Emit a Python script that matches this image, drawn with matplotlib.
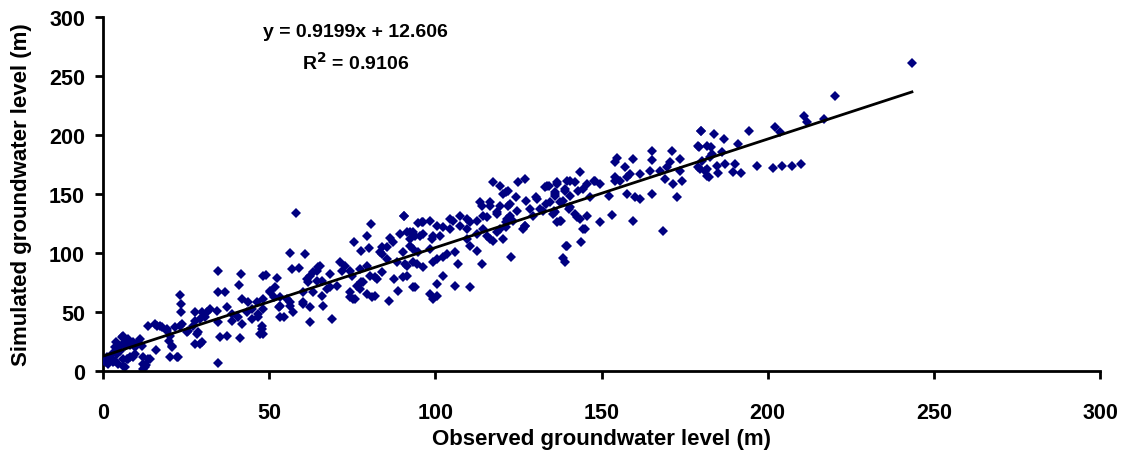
import matplotlib
matplotlib.use("Agg")
import matplotlib.pyplot as plt

plt.rcParams['font.family'] = ['Liberation Sans', 'DejaVu Sans']
plt.rcParams['font.weight'] = 'bold'

# observed vs simulated groundwater level (m)
obs = [
    # 0 - 50 m
    34.7, 41.4, 48.0, 40.9, 34.7, 36.7, 23.2, 23.5, 23.5, 41.7, 43.7,
    27.7, 29.7, 32.2, 34.2, 37.2, 38.7, 40.7, 43.2, 44.7, 46.7, 47.7, 47.2,
    13.6, 15.6, 17.1, 19.2, 21.7, 23.7, 27.7, 30.7, 34.7, 38.7, 41.7,
    5.6, 7.6, 11.1, 3.6, 6.6, 9.6, 11.6, 19.7, 20.7, 27.7, 29.7, 35.2, 37.2,
    41.2, 25.7, 28.7,
    0.6, 1.6, 3.1, 4.6, 6.1, 7.6, 9.1, 6.6, 12.1, 12.6, 14.1, 20.2, 22.2, 34.7,
    1.0, 2.0, 3.0, 5.0, 8.0, 4.0, 6.0, 10.0, 12.0, 12.0, 13.0, 16.0,
    0.1, 1.6, 3.6, 1.1, 4.1, 5.1, 6.6, 9.1, 7.1, 8.1, 9.6, 6.1, 13.6,
    16.1, 17.6, 19.1, 20.2, 20.7, 22.7, 23.2, 25.2, 27.2, 28.2, 29.2, 31.2, 29.2,
    # 44 - 95 m
    58.1, 90.6, 80.5, 94.9, 79.5, 75.5, 77.5, 80.0, 86.4, 89.4, 92.4, 83.8,
    83.8, 85.3, 88.4, 91.4, 94.4, 90.4, 93.4,
    56.3, 60.8, 56.8, 59.1, 49.0, 52.3,
    65.3, 64.3, 62.3, 61.8, 64.3, 68.3, 71.3, 72.8, 74.3, 77.3, 79.3, 80.3,
    82.3, 78.3, 76.3, 74.3, 75.3, 79.3, 81.8, 85.9, 88.9, 93.4, 87.4, 90.4,
    70.3, 67.3, 65.8, 63.3, 60.3, 56.3, 57.3, 53.3, 54.3, 50.3, 51.3, 48.2,
    46.2, 44.7, 48.2, 46.7, 47.7, 48.2, 66.3, 62.3, 68.8, 60.3, 55.3,
    64.8, 63.3, 61.3, 65.8, 71.8, 68.3, 74.8, 77.6, 77.3, 74.3, 75.8, 80.8,
    81.8, 83.8, 83.3, 85.3, 87.3, 50.3, 51.8, 53.3, 56.3, 52.8, 60.3, 62.3,
    53.3,
    # 90 - 140 m
    117.4, 119.4, 124.9, 127.0, 133.5, 136.5, 139.5, 139.0, 121.4, 124.4,
    127.4, 130.4, 133.4, 136.0, 138.5, 113.9, 116.4, 119.4, 122.4, 118.4,
    115.4, 112.4, 109.4, 107.4, 105.4, 107.4, 104.4, 102.4, 100.4, 98.4,
    95.9, 90.6, 91.4, 93.9, 96.4, 98.9, 101.4, 109.4, 112.4, 114.4, 116.4,
    119.4, 121.4, 123.4, 126.9, 129.4, 132.4, 135.5, 137.9, 117.4, 120.4,
    126.4, 112.4, 110.4, 105.9, 106.9, 102.4, 99.4, 96.4, 93.4, 90.9, 94.9,
    92.4, 113.9, 122.9, 139.5, 139.0, 102.4, 100.4, 105.9, 110.4, 93.9,
    98.4, 100.4, 99.4, 91.4,
    120.4, 113.4, 116.4, 118.4, 114.4, 110.4, 104.4, 99.4, 95.4, 93.4, 92.4,
    98.4, 100.4, 103.4, 109.4, 115.4, 118.4, 121.4, 122.4, 96.4,
    # 120 - 182 m
    142.1, 134.1, 148.1, 133.0, 136.1, 122.0, 130.5, 137.6, 122.0, 124.5,
    128.5, 131.6, 135.6, 140.1, 142.6, 136.6, 127.0, 145.1, 121.5,
    179.9, 178.9, 181.6, 165.1, 171.1, 154.6, 159.6, 165.1, 170.6, 173.6,
    154.1, 157.1, 154.1, 157.6, 155.6, 158.6, 161.6, 164.6, 167.6, 169.6,
    173.6, 179.1, 181.1, 181.6, 169.1, 171.6, 174.1, 143.5, 140.5, 136.5,
    143.0, 145.5, 147.6, 149.6, 144.5, 139.0, 136.0, 140.5, 146.5, 152.1,
    154.1, 157.6, 160.1, 161.6, 165.1, 172.6, 134.5, 136.0, 137.5, 140.5,
    142.0, 143.5, 145.5, 153.1, 149.6, 159.6, 144.5, 168.6, 139.3, 143.7,
    138.5,
    # 176 - 245 m
    211.0, 211.7, 216.8, 202.2, 203.7, 194.5, 179.8, 183.7, 186.7, 179.2,
    182.9, 191.2, 183.2, 186.2, 180.2, 182.7, 184.7, 187.2, 190.2, 179.7,
    181.7, 184.9, 189.7, 191.9, 182.2, 196.7, 201.5, 204.2, 207.2, 209.9,
    243.4, 220.3,
]
sim = [
    # 0 - 50 m
    84.5, 82.2, 80.8, 72.9, 67.2, 67.2, 64.4, 56.8, 49.7, 61.0, 58.2,
    49.7, 49.7, 52.5, 51.1, 53.9, 48.3, 45.5, 49.7, 44.0, 48.3, 35.6, 31.4,
    38.4, 39.8, 38.4, 35.6, 37.0, 39.8, 42.6, 45.5, 41.2, 42.6, 39.8,
    28.5, 27.1, 27.1, 20.0, 21.4, 20.0, 20.8, 25.7, 20.8, 22.8, 24.2, 28.5, 29.4,
    28.0, 34.2, 32.8,
    10.2, 5.9, 7.3, 5.9, 10.2, 10.2, 11.6, 3.1, 5.9, 3.1, 10.2, 11.6, 11.6, 6.8,
    8.0, 12.0, 15.0, 17.0, 22.0, 25.0, 30.0, 23.0, 12.0, 2.0, 5.0, 18.0,
    8.8, 7.3, 8.8, 11.6, 14.4, 21.5, 24.3, 24.3, 10.2, 11.6, 14.4, 4.5, 10.2,
    38.4, 37.0, 34.2, 30.0, 20.0, 11.6, 38.4, 32.8, 38.4, 31.4, 44.0, 49.7, 22.9,
    # 44 - 95 m
    133.6, 131.6, 124.9, 125.4, 114.1, 109.0, 102.0, 104.0, 112.5, 116.0, 117.5, 104.7,
    99.0, 94.9, 92.1, 89.3, 90.7, 100.5, 103.4,
    100.0, 99.1, 86.4, 87.2, 81.4, 78.8,
    89.2, 85.0, 80.7, 75.2, 76.5, 82.2, 92.1, 89.3, 85.0, 86.4, 89.3, 80.7,
    78.0, 75.2, 72.3, 66.7, 61.0, 65.3, 63.8, 59.6, 68.1, 70.9, 78.0, 79.4,
    72.3, 69.5, 63.8, 66.7, 58.2, 58.2, 49.7, 55.4, 45.4, 68.1, 62.4, 61.0,
    58.2, 52.5, 52.5, 45.4, 38.4, 31.4, 55.4, 41.2, 44.0, 67.2, 61.0,
    87.9, 83.6, 77.9, 76.5, 85.0, 70.9, 80.7, 75.1, 69.5, 62.4, 61.0, 62.4,
    79.4, 83.6, 100.5, 104.8, 109.0, 66.7, 70.9, 62.4, 55.4, 54.0, 56.8, 54.0,
    45.4,
    # 90 - 140 m
    159.9, 157.0, 160.6, 162.3, 157.0, 159.9, 161.3, 152.8, 151.4, 147.1,
    144.3, 147.1, 141.5, 149.9, 144.3, 140.1, 142.9, 140.1, 141.5, 133.0,
    130.2, 127.4, 128.8, 131.6, 127.4, 123.1, 120.3, 121.7, 123.1, 127.4,
    126.0, 131.1, 117.5, 114.7, 116.1, 111.9, 114.7, 120.3, 116.1, 120.3, 111.9,
    120.3, 126.0, 127.4, 123.1, 131.6, 135.9, 133.0, 127.4, 110.5, 111.9,
    120.3, 102.0, 106.2, 100.6, 90.7, 96.3, 92.1, 87.8, 92.1, 90.7, 100.6,
    106.2, 90.7, 96.3, 106.2, 92.1, 80.7, 73.7, 72.3, 70.9, 70.9,
    65.3, 63.8, 61.0, 80.7,
    150.0, 143.0, 140.0, 134.5, 131.6, 126.0, 128.8, 114.7, 114.7, 117.5, 111.9,
    103.4, 94.9, 99.1, 111.9, 114.7, 117.5, 121.7, 131.6, 126.0,
    # 120 - 182 m
    159.9, 157.0, 161.3, 155.6, 151.4, 152.8, 145.8, 142.9, 140.0, 135.9,
    137.3, 137.3, 135.9, 137.3, 130.2, 125.9, 123.1, 120.3, 128.8,
    203.1, 190.9, 190.9, 186.7, 186.7, 180.3, 179.7, 178.9, 177.4, 179.7,
    176.9, 172.6, 164.1, 164.1, 161.3, 166.9, 166.9, 169.8, 169.8, 172.6,
    169.8, 172.6, 169.8, 165.0, 162.7, 158.5, 161.3, 168.4, 161.3, 158.5,
    152.8, 158.5, 161.3, 158.5, 154.2, 154.2, 148.6, 148.6, 147.2, 148.6,
    161.3, 150.0, 147.2, 145.8, 150.0, 147.2, 142.9, 134.5, 127.4, 138.7,
    133.0, 128.8, 131.6, 132.2, 126.0, 127.4, 120.3, 118.9, 106.2, 109.6,
    95.4,
    # 176 - 245 m
    215.8, 210.7, 213.6, 206.5, 202.3, 203.7, 203.7, 200.9, 196.6, 190.2,
    190.2, 192.1, 183.9, 185.3, 178.2, 181.1, 174.0, 175.4, 175.4, 171.2,
    171.2, 167.8, 168.4, 167.8, 164.1, 173.5, 172.1, 174.0, 173.5, 175.4,
    260.9, 232.8,
]

slope = 0.9199
intercept = 12.606
r2 = 0.9106

fig = plt.figure(figsize=(11.25, 4.56), dpi=100)
ax = fig.add_axes([0.0916, 0.1842, 0.8862, 0.7763])

ax.plot(obs, sim, linestyle='none', marker='D', markersize=5.2,
        color='#000080', markeredgewidth=0, zorder=2)

# linear trend line over the observed range
x_fit = [0, max(obs)]
y_fit = [slope * v + intercept for v in x_fit]
ax.plot(x_fit, y_fit, color='black', linewidth=2, zorder=3)

ax.set_xlim(0, 300)
ax.set_ylim(0, 300)
ax.set_xticks(range(0, 301, 50))
ax.set_yticks(range(0, 301, 50))

for side in ['top', 'right']:
    ax.spines[side].set_visible(False)
for side in ['left', 'bottom']:
    ax.spines[side].set_linewidth(2)
    ax.spines[side].set_color('black')
ax.spines['left'].set_zorder(1)

ax.tick_params(axis='x', direction='out', length=6, width=2, pad=16, labelsize=15.5)
ax.tick_params(axis='y', direction='out', length=6, width=2, pad=7, labelsize=15.5)
for lbl in ax.get_xticklabels() + ax.get_yticklabels():
    lbl.set_fontweight('bold')

ax.set_xlabel("Observed groundwater level (m)", fontsize=16, fontweight='bold', labelpad=4)
ax.set_ylabel("Simulated groundwater level (m)", fontsize=16, fontweight='bold', labelpad=12)

ax.text(76, 288, "y = 0.9199x + 12.606", ha='center', va='center',
        fontsize=14, fontweight='bold')
ax.text(76, 262, "R$^{\\mathbf{2}}$ = 0.9106", ha='center', va='center',
        fontsize=14, fontweight='bold')

fig.savefig("out.png", dpi=100)
